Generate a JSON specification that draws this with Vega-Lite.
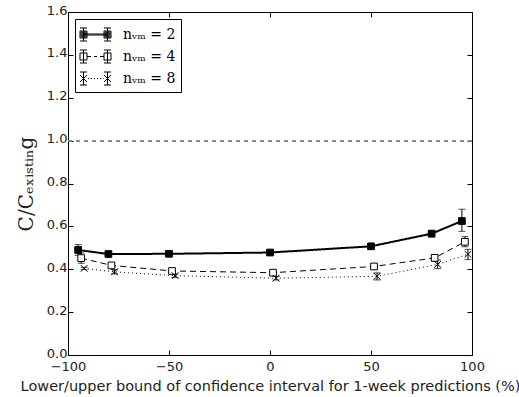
{
  "$schema": "https://vega.github.io/schema/vega-lite/v6.json",
  "width": 404,
  "height": 343,
  "autosize": "none",
  "padding": {"left": 68, "top": 12, "right": 47, "bottom": 42},
  "background": "white",
  "config": {
    "view": {"stroke": "black", "strokeWidth": 1},
    "axis": {"grid": false, "domain": false, "tickColor": "black", "tickSize": -5, "labelFont": "DejaVu Sans", "labelFontSize": 13, "labelColor": "#222", "titleFont": "DejaVu Sans", "titleFontWeight": "normal", "titleColor": "#222", "labelFlush": false}
  },
  "data": {"values": [
    {"n": "2", "x": -95, "y": 0.49, "lo": 0.465, "hi": 0.515},
    {"n": "2", "x": -80, "y": 0.471, "lo": 0.463, "hi": 0.479},
    {"n": "2", "x": -50, "y": 0.472, "lo": 0.464, "hi": 0.48},
    {"n": "2", "x": 0, "y": 0.478, "lo": 0.47, "hi": 0.486},
    {"n": "2", "x": 50, "y": 0.507, "lo": 0.497, "hi": 0.517},
    {"n": "2", "x": 80, "y": 0.566, "lo": 0.551, "hi": 0.581},
    {"n": "2", "x": 95, "y": 0.625, "lo": 0.577, "hi": 0.68},
    {"n": "4", "x": -93.5, "y": 0.452, "lo": 0.428, "hi": 0.476},
    {"n": "4", "x": -78.5, "y": 0.418, "lo": 0.406, "hi": 0.43},
    {"n": "4", "x": -48.5, "y": 0.392, "lo": 0.382, "hi": 0.402},
    {"n": "4", "x": 1.5, "y": 0.384, "lo": 0.374, "hi": 0.394},
    {"n": "4", "x": 51.5, "y": 0.413, "lo": 0.401, "hi": 0.425},
    {"n": "4", "x": 81.5, "y": 0.453, "lo": 0.438, "hi": 0.468},
    {"n": "4", "x": 96.5, "y": 0.528, "lo": 0.505, "hi": 0.552},
    {"n": "8", "x": -92, "y": 0.404, "lo": 0.399, "hi": 0.409},
    {"n": "8", "x": -77, "y": 0.388, "lo": 0.378, "hi": 0.398},
    {"n": "8", "x": -47, "y": 0.37, "lo": 0.362, "hi": 0.378},
    {"n": "8", "x": 3, "y": 0.358, "lo": 0.35, "hi": 0.366},
    {"n": "8", "x": 53, "y": 0.367, "lo": 0.35, "hi": 0.383},
    {"n": "8", "x": 83, "y": 0.423, "lo": 0.403, "hi": 0.443},
    {"n": "8", "x": 98, "y": 0.47, "lo": 0.445, "hi": 0.493}
  ]},
  "resolve": {"axis": {"x": "independent", "y": "independent"}},
  "layer": [
    {
      "mark": {"type": "point", "opacity": 0},
      "encoding": {
        "x": {"field": "x", "type": "quantitative", "scale": {"domain": [-100, 100], "nice": false}, "axis": {"orient": "top", "values": [-100, -50, 0, 50, 100], "labels": false, "title": null}},
        "y": {"field": "y", "type": "quantitative", "scale": {"domain": [0, 1.6], "nice": false}, "axis": {"orient": "right", "values": [0, 0.2, 0.4, 0.6, 0.8, 1.0, 1.2, 1.4, 1.6], "labels": false, "title": null}}
      }
    },
    {
      "resolve": {"scale": {"shape": "independent"}},
      "layer": [
        {
          "mark": {"type": "rule", "color": "#888", "strokeDash": [4, 4], "strokeWidth": 1},
          "encoding": {"y": {"datum": 1, "type": "quantitative", "title": "C/Cₑₓᵢₛₜᵢₙg"}}
        },
        {
          "mark": {"type": "line", "color": "black"},
          "encoding": {
            "x": {"field": "x", "type": "quantitative", "title": "Lower/upper bound of confidence interval for 1-week predictions (%)"},
            "y": {"field": "y", "type": "quantitative", "title": "C/Cₑₓᵢₛₜᵢₙg"},
            "detail": {"field": "n"},
            "strokeDash": {"condition": [{"test": "datum.n == '4'", "value": [6, 4]}, {"test": "datum.n == '8'", "value": [1, 3]}], "value": [1, 0]},
            "strokeWidth": {"condition": {"test": "datum.n == '2'", "value": 2}, "value": 1}
          }
        },
        {
          "mark": {"type": "errorbar", "ticks": {"size": 7, "color": "black"}, "rule": {"color": "black"}},
          "encoding": {
            "x": {"field": "x", "type": "quantitative", "title": "Lower/upper bound of confidence interval for 1-week predictions (%)"},
            "y": {"field": "lo", "type": "quantitative", "title": "C/Cₑₓᵢₛₜᵢₙg"},
            "y2": {"field": "hi"},
            "detail": {"field": "n"}
          }
        },
        {
          "mark": {"type": "point", "stroke": "black", "strokeWidth": 1, "opacity": 1, "size": 45},
          "encoding": {
            "x": {"field": "x", "type": "quantitative", "axis": {"values": [-100, -50, 0, 50, 100], "title": "Lower/upper bound of confidence interval for 1-week predictions (%)", "titleFontSize": 14.5, "labelPadding": 10, "titlePadding": 6}},
            "y": {"field": "y", "type": "quantitative", "axis": {"values": [0, 0.2, 0.4, 0.6, 0.8, 1.0, 1.2, 1.4, 1.6], "format": ".1f", "title": "C/Cₑₓᵢₛₜᵢₙg", "titleFont": "DejaVu Serif", "titleFontSize": 20, "titlePadding": 10, "labelPadding": 6, "labelOffset": -2}},
            "shape": {"field": "n", "type": "nominal", "scale": {"domain": ["2", "4", "8"], "range": ["square", "square", "M-1,-1L1,1M1,-1L-1,1"]}, "legend": null},
            "fill": {"condition": {"test": "datum.n == '2'", "value": "black"}, "value": "white"}
          }
        },
        {
          "transform": [{"filter": "datum.x < -500"}],
          "mark": {"type": "point", "opacity": 1, "filled": false, "color": "black", "strokeWidth": 1},
          "encoding": {
            "x": {"field": "x", "type": "quantitative"},
            "y": {"field": "y", "type": "quantitative"},
            "shape": {"field": "n", "type": "nominal", "scale": {"domain": ["2", "4", "8"], "range": [
              "M-0.7,-0.05H1.7M-0.7,0.05H1.7M-1.05,-0.35H-0.35V0.35H-1.05ZM-0.95,-0.25H-0.45V0.25H-0.95ZM-0.85,-0.15H-0.55V0.15H-0.85ZM-0.75,-0.05H-0.65V0.05H-0.75ZM1.35,-0.35H2.05V0.35H1.35ZM1.45,-0.25H1.95V0.25H1.45ZM1.55,-0.15H1.85V0.15H1.55ZM1.65,-0.05H1.75V0.05H1.65ZM-0.7,-0.65V0.65M-1.05,-0.65H-0.35M-1.05,0.65H-0.35M1.7,-0.65V0.65M1.35,-0.65H2.05M1.35,0.65H2.05",
              "M-0.35,0H0.05M0.35,0H0.65M0.95,0H1.35M-1.05,-0.35H-0.35V0.35H-1.05ZM1.35,-0.35H2.05V0.35H1.35ZM-0.7,-0.65V0.65M-1.05,-0.65H-0.35M-1.05,0.65H-0.35M1.7,-0.65V0.65M1.35,-0.65H2.05M1.35,0.65H2.05",
              "M-1.05,-0.35L-0.35,0.35M-0.35,-0.35L-1.05,0.35M1.35,-0.35L2.05,0.35M2.05,-0.35L1.35,0.35M-0.7,-0.65V0.65M-1.05,-0.65H-0.35M-1.05,0.65H-0.35M1.7,-0.65V0.65M1.35,-0.65H2.05M1.35,0.65H2.05M-0.25,0H-0.15M0.05,0H0.15M0.35,0H0.45M0.65,0H0.75M0.95,0H1.05M1.25,0H1.3"
            ]},
              "legend": {
                "orient": "top-left", "offset": 7, "title": null, "padding": 5,
                "strokeColor": "black", "fillColor": "white",
                "labelFont": "DejaVu Serif", "labelFontSize": 14, "labelColor": "black",
                "labelExpr": "'nᵥₘ = ' + datum.label",
                "rowPadding": 3, "symbolSize": 400, "labelOffset": 22, "symbolStrokeWidth": 1, "symbolStrokeColor": "black"
              }
            }
          }
        }
      ]
    }
  ]
}
